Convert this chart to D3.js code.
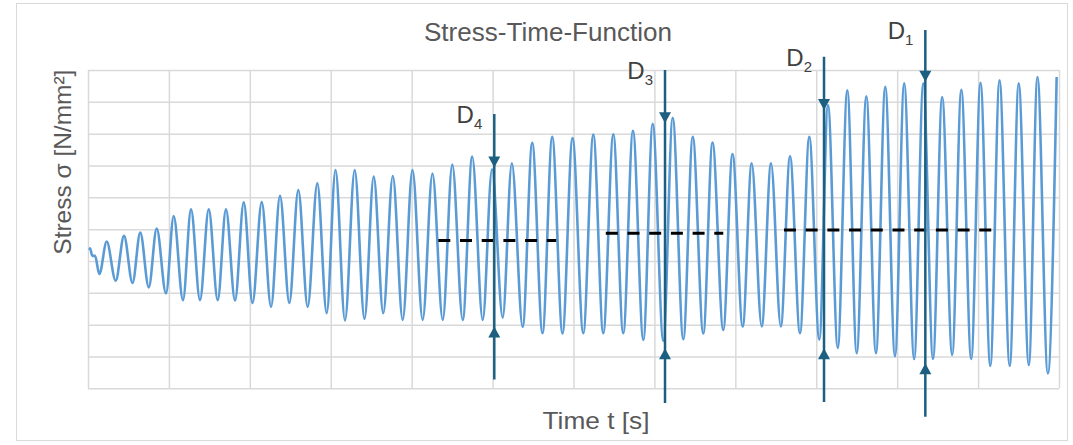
<!DOCTYPE html>
<html>
<head>
<meta charset="utf-8">
<script src="https://d3js.org/d3.v7.min.js"></script>
<style>
  body { margin: 0; background: #fff; }
  svg text { font-family: "Liberation Sans", Arial, sans-serif; }
</style>
</head>
<body>
<div id="chart"></div>
<script>
  const extremaTime = [
    0.16, 0.25, 0.53, 0.87, 1.40,
    2.31, 3.42, 4.45, 5.50, 6.46, 7.51, 8.49, 9.64, 10.59, 11.74,
    12.73, 13.84, 14.92, 16.03, 17.05, 18.17, 19.25, 20.33, 21.47, 22.62,
    23.73, 24.88, 25.99, 27.15, 28.34, 29.50, 30.59, 31.76, 32.96, 34.17,
    35.31, 36.49, 37.67, 38.89, 40.10, 41.36, 42.57, 43.84, 45.02, 46.31,
    47.48, 48.78, 49.93, 51.25, 52.38, 53.72, 54.90, 56.17, 57.37, 58.64,
    59.88, 61.21, 62.45, 63.68, 64.92, 66.15, 67.35, 68.63, 69.79, 71.10,
    72.26, 73.57, 74.74, 76.04, 77.18, 78.51, 79.65, 80.91, 82.02, 83.26,
    84.41, 85.62, 86.76, 87.99, 89.14, 90.38, 91.45, 92.66, 93.84, 95.00,
    96.19, 97.38, 98.53, 99.73, 100.87, 102.10, 103.23, 104.43, 105.56, 106.80,
    107.93, 109.15, 110.30, 111.51, 112.65, 113.91, 115.02, 116.27, 117.34, 118.62,
    119.71
  ];
  const extremaStress = [
    43.5, 44.0, 41.6, 41.6, 35.9,
    46.1, 33.8, 47.9, 33.1, 48.9, 31.7, 50.2, 29.8, 54.1, 27.7,
    56.2, 27.7, 56.2, 27.7, 56.2, 27.6, 58.4, 26.8, 58.5, 25.6,
    60.5, 26.8, 62.3, 25.6, 64.4, 23.6, 68.6, 21.3, 68.6, 21.8,
    66.5, 23.6, 66.7, 21.5, 68.6, 21.5, 67.5, 21.5, 70.3, 21.5,
    72.8, 21.5, 68.8, 22.2, 70.7, 19.3, 77.1, 17.3, 79.0, 17.2,
    78.6, 17.3, 79.7, 17.3, 79.8, 17.3, 80.9, 15.2, 83.1, 14.9,
    85.0, 15.4, 79.0, 17.2, 77.2, 18.3, 73.6, 19.4, 70.7, 19.4,
    70.7, 19.4, 72.9, 17.3, 79.0, 15.3, 89.0, 12.7, 93.6, 11.0,
    91.7, 11.0, 94.7, 10.1, 95.8, 9.2, 95.8, 9.2, 91.5, 10.5,
    93.8, 9.2, 96.0, 7.0, 96.8, 7.0, 95.8, 7.3, 97.8, 4.7,
    97.8
  ];

  // grid ticks (no labels shown)
  const timeTicks = d3.range(0, 121, 10);
  const stressTicks = d3.range(0, 101, 10);

  // D markers: position, arrow tips and line extent (data units)
  const markerName = ["1", "2", "3", "4"];
  const markerTime = [103.48, 90.96, 71.31, 50.21];
  const markerTop = [112.6, 104.2, 100.0, 86.2];
  const markerUpperTip = [96.3, 87.4, 83.3, 69.4];
  const markerLowerTip = [7.9, 12.6, 12.6, 19.4];
  const markerBottom = [-8.9, -4.3, -4.6, 2.8];

  // dashed mean stress lines
  const meanStart = [43.29, 63.99, 86.01];
  const meanEnd = [57.87, 78.51, 111.68];
  const meanStress = [46.4, 48.7, 49.7];

  const width = 1073;
  const height = 445;
  const lineColor = "#5b9bd5";
  const markerColor = "#1d5f80";
  const gridColor = "#d9d9d9";
  const textColor = "#595959";

  const svg = d3.select("#chart")
    .append("svg")
    .attr("width", width)
    .attr("height", height);

  // outer frame
  svg.append("rect")
    .attr("x", 16.5)
    .attr("y", 3.5)
    .attr("width", 1051)
    .attr("height", 437)
    .attr("fill", "#fff")
    .attr("stroke", "#d9d9d9");

  const x = d3.scaleLinear().domain([0, 120]).range([88, 1059]);
  const y = d3.scaleLinear().domain([0, 100]).range([388.3, 70]);

  // vertical grid
  svg.append("g")
    .attr("transform", `translate(0, ${y(0)})`)
    .call(d3.axisBottom(x).tickValues(timeTicks).tickSize(-(y(0) - y(100))).tickFormat(""))
    .call(g => g.select(".domain").remove())
    .call(g => g.selectAll("line").attr("stroke", gridColor).attr("stroke-width", 1.5));

  // horizontal grid
  svg.append("g")
    .attr("transform", `translate(${x(0)}, 0)`)
    .call(d3.axisLeft(y).tickValues(stressTicks).tickSize(-(x(120) - x(0))).tickFormat(""))
    .call(g => g.select(".domain").remove())
    .call(g => g.selectAll("line").attr("stroke", gridColor).attr("stroke-width", 1.5));

  // signal
  const points = extremaTime.map((t, i) => [t, extremaStress[i]]);
  const line = d3.line()
    .x(d => x(d[0]))
    .y(d => y(d[1]))
    .curve(d3.curveMonotoneX);

  svg.append("path")
    .datum(points)
    .attr("d", line)
    .attr("fill", "none")
    .attr("stroke", lineColor)
    .attr("stroke-width", 2.6)
    .attr("stroke-linejoin", "round");

  // mean lines
  svg.selectAll(".mean")
    .data(meanStress)
    .enter().append("line")
    .attr("class", "mean")
    .attr("x1", (d, i) => x(meanStart[i]))
    .attr("x2", (d, i) => x(meanEnd[i]))
    .attr("y1", d => y(d))
    .attr("y2", d => y(d))
    .attr("stroke", "#000")
    .attr("stroke-width", 3)
    .attr("stroke-dasharray", "12 9.7");

  // markers
  const markers = svg.selectAll(".marker")
    .data(markerName)
    .enter().append("g")
    .attr("class", "marker");

  markers.append("line")
    .attr("x1", (d, i) => x(markerTime[i]))
    .attr("x2", (d, i) => x(markerTime[i]))
    .attr("y1", (d, i) => y(markerTop[i]))
    .attr("y2", (d, i) => y(markerBottom[i]))
    .attr("stroke", markerColor)
    .attr("stroke-width", 2.5);

  // arrow pointing down onto the peak
  markers.append("path")
    .attr("d", (d, i) => {
      const cx = x(markerTime[i]), ty = y(markerUpperTip[i]);
      return `M${cx - 6},${ty - 11}L${cx + 6},${ty - 11}L${cx},${ty}Z`;
    })
    .attr("fill", markerColor);

  // arrow pointing up onto the trough
  markers.append("path")
    .attr("d", (d, i) => {
      const cx = x(markerTime[i]), ty = y(markerLowerTip[i]);
      return `M${cx - 6},${ty + 11}L${cx + 6},${ty + 11}L${cx},${ty}Z`;
    })
    .attr("fill", markerColor);

  const labels = markers.append("text")
    .attr("x", (d, i) => x(markerTime[i]) - 12)
    .attr("y", (d, i) => y(markerTop[i]) + 9)
    .attr("text-anchor", "end")
    .attr("fill", "#404040")
    .style("font-size", "24px")
    .text("D");
  labels.append("tspan")
    .attr("dy", 6)
    .style("font-size", "15px")
    .text(d => d);

  // title and axis titles
  svg.append("text")
    .attr("x", 548)
    .attr("y", 41)
    .attr("text-anchor", "middle")
    .attr("fill", textColor)
    .attr("textLength", 248)
    .attr("lengthAdjust", "spacingAndGlyphs")
    .style("font-size", "25px")
    .text("Stress-Time-Function");

  svg.append("text")
    .attr("transform", `translate(71, ${(y(0) + y(100)) / 2 - 67}) rotate(-90)`)
    .attr("text-anchor", "middle")
    .attr("fill", textColor)
    .attr("textLength", 185)
    .attr("lengthAdjust", "spacingAndGlyphs")
    .style("font-size", "24px")
    .text("Stress σ [N/mm²]");

  svg.append("text")
    .attr("x", 596)
    .attr("y", 429)
    .attr("text-anchor", "middle")
    .attr("fill", textColor)
    .attr("textLength", 107)
    .attr("lengthAdjust", "spacingAndGlyphs")
    .style("font-size", "24px")
    .text("Time t [s]");
</script>
</body>
</html>
